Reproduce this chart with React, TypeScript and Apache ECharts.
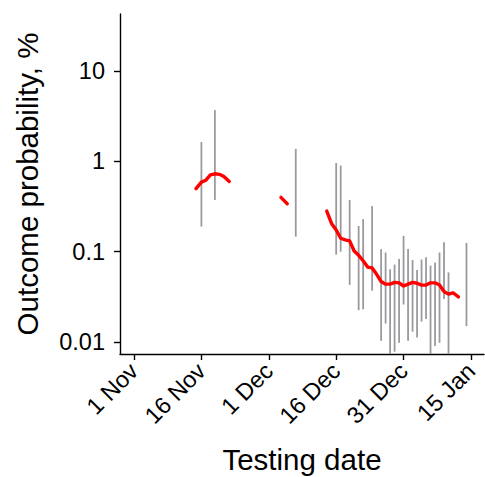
import React, { useEffect, useRef } from "react";
import * as echarts from "echarts";

// Days counted from 1 Nov (day 0)
const xTickDays = [0, 15, 30, 45, 60, 75];
const xTickLabels = ["1 Nov", "16 Nov", "1 Dec", "16 Dec", "31 Dec", "15 Jan"];
const yTickValues = [0.01, 0.1, 1, 10];
const yTickLabels = ["0.01", "0.1", "1", "10"];

// Smoothed estimate (red line), null = gap
const lineDays = [
  13.8, 15, 16, 17, 18, 19, 20, 21.2,
  27,
  32.7, 34.1,
  40,
  42.9, 44, 45, 46, 47, 48, 49, 50, 51, 52, 53, 54, 55, 56, 57, 58, 59, 60, 61, 62, 63, 64, 65, 66, 67, 68, 69, 70, 71, 72.2,
];
const lineValues: (number | null)[] = [
  0.5, 0.59, 0.62, 0.71, 0.73, 0.72, 0.68, 0.6,
  null,
  0.4, 0.34,
  null,
  0.282, 0.204, 0.174, 0.141, 0.135, 0.132, 0.102, 0.0912, 0.0794, 0.0676, 0.0661, 0.0562, 0.0468, 0.0437, 0.0437,
  0.0457, 0.0452, 0.0417, 0.0437, 0.0457, 0.0447, 0.0427, 0.0427, 0.0452, 0.0452, 0.0427, 0.0363, 0.0339, 0.0351, 0.0316,
];

// Daily intervals (grey bars)
const barDays = [15, 18, 36, 45, 46, 48, 50, 51, 53, 55, 56, 57, 58, 59, 60, 61, 62, 63, 64, 65, 66, 67, 68, 69, 70, 74];
const barHigh = [1.64, 3.7, 1.38, 0.96, 0.9, 0.375, 0.193, 0.23, 0.32, 0.107, 0.098, 0.064, 0.072, 0.083, 0.15, 0.107, 0.081, 0.0626, 0.082, 0.087, 0.07, 0.076, 0.098, 0.127, 0.059, 0.125];
const barLow = [0.19, 0.375, 0.147, 0.093, 0.1, 0.043, 0.0225, 0.023, 0.037, 0.0103, 0.016, 0.006, 0.0078, 0.0098, 0.026, 0.0103, 0.013, 0.0112, 0.0168, 0.018, 0.006, 0.009, 0.0098, 0.03, 0.006, 0.015];

const X_MIN = -3.12;
const X_MAX = 77.9;
const Y_MIN = Math.log10(0.00736);
const Y_MAX = Math.log10(43);

export default function App() {
  const ref = useRef<HTMLDivElement>(null);
  useEffect(() => {
    if (!ref.current) return;
    const chart = echarts.init(ref.current, null, { renderer: "svg" });
    const font = "Liberation Sans, Arial, sans-serif";
    const yLogTicks = yTickValues.map((v) => Math.log10(v));
    const barData = barDays.map((d, i) => [d, Math.log10(barLow[i]), Math.log10(barHigh[i])]);
    const lineData = lineDays.map((d, i) => [d, lineValues[i] == null ? "-" : Math.log10(lineValues[i] as number)]);
    chart.setOption({
      animation: false,
      backgroundColor: "#ffffff",
      grid: { left: 120, right: 1, top: 14, bottom: 123, containLabel: false, outerBoundsMode: "none" },
      xAxis: {
        type: "value",
        min: X_MIN,
        max: X_MAX,
        name: "Testing date",
        nameLocation: "middle",
        nameGap: 90,
        nameTextStyle: { fontSize: 29.5, color: "#000", fontFamily: font },
        axisLine: { show: true, onZero: false, lineStyle: { color: "#000", width: 1.4 } },
        axisTick: { show: true, length: 6, lineStyle: { color: "#000", width: 1.4 }, customValues: xTickDays },
        axisLabel: {
          customValues: xTickDays,
          rotate: 45,
          fontSize: 23.5,
          color: "#000",
          fontFamily: font,
          margin: 13,
          formatter: (v: number) => {
            const idx = xTickDays.indexOf(Math.round(v));
            return idx >= 0 ? xTickLabels[idx] : "";
          },
        },
        splitLine: { show: false },
      },
      yAxis: {
        type: "value",
        min: Y_MIN,
        max: Y_MAX,
        name: "Outcome probability, %",
        nameLocation: "middle",
        nameGap: 78,
        nameRotate: 90,
        nameTextStyle: { fontSize: 29.5, color: "#000", fontFamily: font },
        axisLine: { show: true, onZero: false, lineStyle: { color: "#000", width: 1.4 } },
        axisTick: { show: true, length: 6, lineStyle: { color: "#000", width: 1.4 }, customValues: yLogTicks },
        axisLabel: {
          customValues: yLogTicks,
          fontSize: 23.5,
          color: "#000",
          fontFamily: font,
          margin: 15,
          formatter: (v: number) => {
            const idx = yLogTicks.findIndex((t) => Math.abs(t - v) < 1e-6);
            return idx >= 0 ? yTickLabels[idx] : "";
          },
        },
        splitLine: { show: false },
      },
      series: [
        {
          type: "custom",
          data: barData,
          clip: true,
          renderItem: (params: any, api: any) => {
            const d = api.value(0);
            const lo = Math.max(api.value(1), Y_MIN);
            const hi = Math.min(api.value(2), Y_MAX);
            const p1 = api.coord([d, lo]);
            const p2 = api.coord([d, hi]);
            return {
              type: "line",
              shape: { x1: p1[0], y1: p1[1], x2: p2[0], y2: p2[1] },
              style: { stroke: "#9c999e", lineWidth: 1.8 },
            };
          },
          z: 1,
        },
        {
          type: "line",
          data: lineData,
          showSymbol: false,
          connectNulls: false,
          lineStyle: { color: "#ff0000", width: 3.4, cap: "round", join: "round" },
          z: 2,
        },
      ],
    });
    return () => chart.dispose();
  }, []);
  return (
    <div
      ref={ref}
      style={{ position: "fixed", left: 0, top: 0, width: 485, height: 477, background: "#fff" }}
    />
  );
}
